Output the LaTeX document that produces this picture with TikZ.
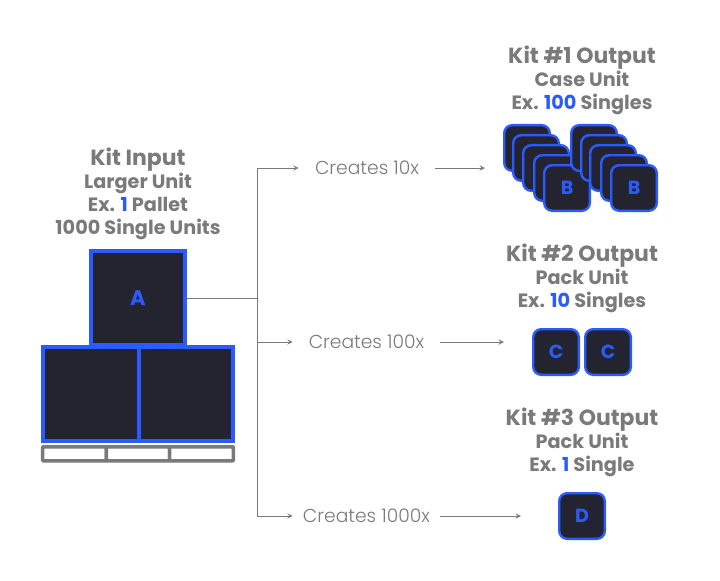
\documentclass[tikz,border=0pt]{standalone}
\usepackage{fontspec}
\setmainfont{Poppins}[BoldFont={Poppins Bold}]
\newfontfamily\lightfont{Poppins Light}
\usetikzlibrary{arrows}
\definecolor{kitgray}{HTML}{7A7A7A}
\definecolor{kitblue}{HTML}{2B5BFF}
\definecolor{kitdark}{HTML}{242431}
\newcommand{\hl}[1]{\textcolor{kitblue}{#1}}
\tikzset{
	bigbox/.style={draw=kitblue,fill=kitdark,line width=0.1cm,minimum size=2.35cm,inner sep=0pt},
	smallbox/.style={draw=kitblue,fill=kitdark,line width=0.06cm,rounded corners=0.2cm,minimum size=1.14cm,inner sep=0pt,
		text=kitblue,font=\fontsize{13.5}{13.5}\selectfont\bfseries},
	slat/.style={draw=kitgray,fill=white,line width=0.0875cm,minimum height=0.35cm,inner sep=0pt,rounded corners=0.5pt},
	title/.style={text=kitgray,inner sep=0pt,anchor=base,font=\fontsize{15.6}{15.6}\selectfont\bfseries},
	sub/.style={text=kitgray,inner sep=0pt,anchor=base,font=\fontsize{13.7}{13.7}\selectfont\bfseries},
	creates/.style={text=kitgray,inner sep=0pt,font=\fontsize{13.3}{13.3}\selectfont\lightfont},
	link/.style={draw=kitgray,line width=0.7pt}
}
\begin{document}
\begin{tikzpicture}[x=0.025cm,y=-0.025cm,>=stealth]
	\useasboundingbox (0,0) rectangle (720,580);

	\node[title] (intitle) at (138,165.5) {Kit Input};
	\node[sub] (in1) at (138,188.5) {Larger Unit};
	\node[sub] (in2) at (138,211) {Ex. \hl{1} Pallet};
	\node[sub] (in3) at (138,234) {1000 Single Units};

	\node[title] (k1title) at (582,63.5) {Kit \#1 Output};
	\node[sub] (k1a) at (582,86.5) {Case Unit};
	\node[sub] (k1b) at (582,109) {Ex. \hl{100} Singles};

	\node[title] (k2title) at (582,261.5) {Kit \#2 Output};
	\node[sub] (k2a) at (582,284.5) {Pack Unit};
	\node[sub] (k2b) at (582,307.5) {Ex. \hl{10} Singles};

	\node[title] (k3title) at (582,425.5) {Kit \#3 Output};
	\node[sub] (k3a) at (582,448.5) {Pack Unit};
	\node[sub] (k3b) at (582,471.5) {Ex. \hl{1} Single};

	% pallet
	\node[slat,minimum width=1.59cm] (s1) at (74.5,453.75) {};
	\node[slat,minimum width=1.585cm] (s2) at (138,453.75) {};
	\node[slat,minimum width=1.59cm] (s3) at (201.5,453.75) {};

	\node[bigbox,text=kitblue,font=\fontsize{15}{15}\selectfont\bfseries] (aa) at (138,298) {A};
	\node[bigbox,minimum width=2.39cm] (a2) at (90.85,394) {};
	\node[bigbox,minimum width=2.36cm] (a3) at (185.85,394) {};

	% case units
	\foreach \n/\x/\y in {1/527/148,2/536/158,3/546/168,4/557/178}{
		\node[smallbox] (bb\n) at (\x,\y) {};
	}
	\node[smallbox] (bb5) at (567,188) {B};
	\foreach \n/\x/\y in {6/594/148,7/604/158,8/613/168,9/624/178}{
		\node[smallbox] (bb\n) at (\x,\y) {};
	}
	\node[smallbox] (bb10) at (634,188) {B};

	\node[smallbox] (cc1) at (556,352) {C};
	\node[smallbox] (cc2) at (608,352) {C};
	\node[smallbox] (dd) at (582,516) {D};

	\node[creates,minimum width=3.4cm] (p10) at (367,168) {Creates 10x};
	\node[creates,minimum width=3.675cm] (p100) at (366.5,342) {Creates 100x};
	\node[creates,minimum width=3.675cm] (p1000) at (366.5,516) {Creates 1000x};

	\coordinate (trunk) at (257.5,298);
	\coordinate (e10) at (485,168);
	\coordinate (e100) at (504,342);
	\coordinate (e1000) at (521,516);

	\draw[link] (aa) -- (trunk);
	\begin{scope}[every path/.style={link,->}]
		\draw (trunk) |- (p10);
		\draw (trunk) |- (p100);
		\draw (trunk) |- (p1000);
		\draw (p10) -- (e10);
		\draw (p100) -- (e100);
		\draw (p1000) -- (e1000);
	\end{scope}
\end{tikzpicture}
\end{document}
